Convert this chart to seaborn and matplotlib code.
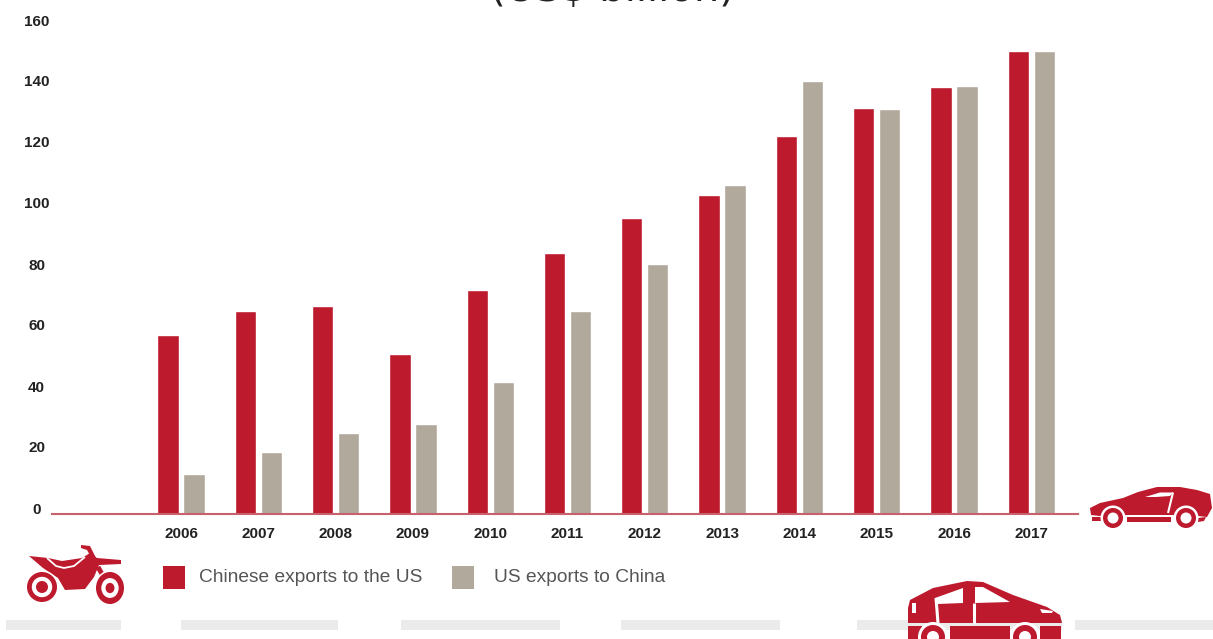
import matplotlib
matplotlib.use("Agg")
import matplotlib.pyplot as plt
from matplotlib.patches import Circle, Ellipse, Polygon, Rectangle
from matplotlib.transforms import ScaledTranslation
import pandas as pd
import seaborn as sns

years = ["2006", "2007", "2008", "2009", "2010", "2011",
         "2012", "2013", "2014", "2015", "2016", "2017"]
china_to_us = [58.0, 65.7, 67.4, 51.8, 72.5, 84.5, 95.9, 103.3, 122.4, 131.5, 138.3, 150.0]
us_to_china = [13.0, 20.1, 26.2, 29.1, 42.8, 65.7, 80.9, 106.6, 140.2, 131.2, 138.6, 150.0]
series_names = ["Chinese exports to the US", "US exports to China"]
y_ticks = [0, 20, 40, 60, 80, 100, 120, 140, 160]

RED = "#bd1a2e"
TAUPE = "#b2a99d"
W, H = 1213, 639

sns.set_theme(style="white", rc={"font.family": ["Liberation Sans", "DejaVu Sans"]})

frame = pd.DataFrame({
    "year": years * 2,
    "value": china_to_us + us_to_china,
    "series": [series_names[0]] * len(years) + [series_names[1]] * len(years),
})

fig = plt.figure(figsize=(W / 100, H / 100), dpi=100, facecolor="white")
ax = fig.add_axes([52 / W, (H - 514) / H, (1078 - 52) / W, 494 / H])

sns.barplot(data=frame, x="year", y="value", hue="series", order=years,
            hue_order=series_names, palette=[RED, TAUPE], width=0.673, gap=0.18,
            saturation=1, legend=False, ax=ax)

ax.set_xlim((52 - 181) / 77.3, (1078 - 181) / 77.3)
ax.set_ylim(0, 160)
ax.set_xlabel("")
ax.set_ylabel("")
sns.despine(ax=ax, left=True)
ax.spines["bottom"].set_color("#c8606e")
ax.spines["bottom"].set_linewidth(1.5)
ax.set_yticks(y_ticks)
ax.tick_params(axis="both", length=0)
ax.tick_params(axis="x", pad=9, labelsize=11, labelcolor="#222222")
ax.tick_params(axis="y", pad=11, labelsize=11, labelcolor="#222222")
for label in ax.get_xticklabels():
    label.set_fontweight("bold")
for label in ax.get_yticklabels():
    label.set_fontweight("bold")
    label.set_horizontalalignment("center")
    # the scale labels drift above their heights towards the baseline
    rise_px = 6 * (1 - label.get_position()[1] / 160)
    label.set_transform(label.get_transform() +
                        ScaledTranslation(0, rise_px / 100, fig.dpi_scale_trans))

# Overlay in pixel units for the legend, the road strips and the vehicle icons
art = fig.add_axes([0, 0, 1, 1], facecolor="none")
art.set_xlim(0, W)
art.set_ylim(H, 0)
art.axis("off")

# Subtitle running off the top edge
art.text(612, 1, "(US$ billion)", ha="center", va="baseline", fontsize=29,
         family="DejaVu Sans", color="#222222", clip_on=False)

# Legend
art.add_patch(Rectangle((163, 566), 22, 23, color=RED, lw=0))
art.text(199, 578, series_names[0], va="center", fontsize=13.8, color="#555555")
art.add_patch(Rectangle((452, 566), 22, 23, color=TAUPE, lw=0))
art.text(494, 578, series_names[1], va="center", fontsize=13.8, color="#555555")

# Road strips
for x0, x1 in [(6, 121), (181, 338), (401, 560), (621, 780), (857, 1062), (1075, 1213)]:
    art.add_patch(Rectangle((x0, 620), x1 - x0, 10, color="#ebebeb", lw=0))


def wheel(cx, cy, r, hole=0.58, hub=0.0, gap=1.25, ry=None):
    """Tyre ring with a white halo and an optional centre hub."""
    ry = ry or r
    art.add_patch(Ellipse((cx, cy), 2 * r * gap, 2 * ry * gap, color="white", lw=0, zorder=3))
    art.add_patch(Ellipse((cx, cy), 2 * r, 2 * ry, color=RED, lw=0, zorder=4))
    art.add_patch(Ellipse((cx, cy), 2 * r * hole, 2 * ry * hole, color="white", lw=0, zorder=5))
    if hub:
        art.add_patch(Ellipse((cx, cy), 2 * r * hub, 2 * ry * hub, color=RED, lw=0, zorder=6))


def shape(points, color=RED, z=2):
    art.add_patch(Polygon(points, closed=True, color=color, lw=0, zorder=z))


def stroke(xs, ys, width, color="white", z=2.5):
    art.plot(xs, ys, color=color, lw=width, zorder=z, solid_capstyle="butt")


# Motorbike
shape([(29, 556), (48, 558), (62, 561), (82, 558), (90, 553), (97, 558), (121, 560), (121, 564),
       (99, 565), (94, 577), (85, 589), (65, 590), (58, 578), (43, 568)])
shape([(81, 545), (90, 546), (96, 558), (91, 557), (87, 550), (81, 548)])
stroke([98, 110], [567, 588], 3.5, color=RED)
stroke([47, 56, 64, 74, 85], [558, 566, 568, 566, 557], 1.3, z=3)
wheel(42, 587, 15, hole=0.68, hub=0.4, gap=1.1)
wheel(110, 588, 14, hole=0.62, hub=0.32, gap=1.1, ry=16)

# Sports car
shape([(1090, 508), (1100, 503), (1123, 498), (1138, 492), (1157, 487), (1180, 487), (1197, 490),
       (1210, 494), (1212, 508), (1207, 517), (1198, 516), (1172, 515), (1127, 515), (1100, 516),
       (1091, 515)])
shape([(1127, 517), (1171, 517), (1171, 522), (1127, 522)])
shape([(1092, 517), (1102, 517), (1102, 521), (1092, 521)])
shape([(1198, 518), (1206, 517), (1204, 521), (1198, 522)])
shape([(1145, 497), (1160, 492.5), (1173, 492.5), (1170, 496), (1156, 497)], color="white", z=3)
stroke([1173, 1168], [492.5, 513], 1.5, z=3)
wheel(1113, 518, 10, hole=0.55)
wheel(1186, 518, 10, hole=0.55)

# Saloon car
shape([(910, 600), (933, 588), (967, 581), (983, 582), (1013, 595), (1047, 607), (1060, 615),
       (1062, 623), (908, 623), (908, 608)])
shape([(908, 626), (922, 626), (922, 639), (908, 639)])
shape([(950, 626), (1010, 626), (1010, 639), (950, 639)])
shape([(1040, 626), (1061, 626), (1061, 639), (1040, 639)])
shape([(935, 598), (963, 588), (963, 603), (938, 604)], color="white", z=3)
shape([(975, 587), (983, 587), (1010, 602), (975, 603)], color="white", z=3)
stroke([974, 974], [603, 623], 2.2, z=3)
stroke([936, 938], [598, 623], 2.2, z=3)
shape([(1040, 609), (1053, 611), (1052, 613), (1042, 613)], color="white", z=3)
shape([(912, 603), (916, 603), (916, 613), (912, 613)], color="white", z=3)
wheel(933, 637, 12, hole=0.5)
wheel(1025, 637, 12, hole=0.5)

fig.savefig("out.png", dpi=100, facecolor="white")
